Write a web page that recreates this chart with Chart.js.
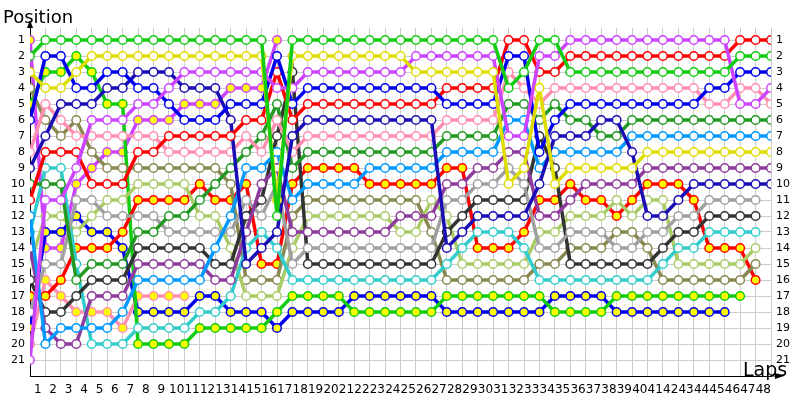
<!DOCTYPE html>
<html>
<head>
<meta charset="utf-8">
<script src="https://cdn.jsdelivr.net/npm/chart.js@4.4.1/dist/chart.umd.min.js"></script>
<style>
html, body { margin: 0; padding: 0; background: #fff; }
</style>
</head>
<body>
<canvas id="chart" width="800" height="400"></canvas>
<script>
// laps (0 = grid position) and position tick labels
const laps = [0,1,2,3,4,5,6,7,8,9,10,11,12,13,14,15,16,17,18,19,20,21,22,23,24,25,26,27,28,29,30,31,32,33,34,35,36,37,38,39,40,41,42,43,44,45,46,47,48];
const lapLabels = ['', '1','2','3','4','5','6','7','8','9','10','11','12','13','14','15','16','17','18','19','20','21','22','23','24','25','26','27','28','29','30','31','32','33','34','35','36','37','38','39','40','41','42','43','44','45','46','47','48'];
const positions = [1,2,3,4,5,6,7,8,9,10,11,12,13,14,15,16,17,18,19,20,21];

// position of each driver per lap, null = out
const green    = [2,1,1,1,1,1,1,1,1,1,1,1,1,1,1,1,12,1,1,1,1,1,1,1,1,1,1,1,1,1,1,4,3,1,1,3,3,3,3,3,3,3,3,3,3,3,2,2,2];
const yellow   = [3,4,4,3,2,2,2,2,2,2,2,2,2,2,2,2,11,2,2,2,2,2,2,2,2,3,3,3,3,3,3,10,9,4,10,9,9,9,9,9,8,8,8,8,8,8,8,8,8];
const violet   = [21,11,11,9,6,6,6,5,5,4,3,3,3,3,3,3,4,4,3,3,3,3,3,3,3,2,2,2,2,2,2,7,7,2,2,1,1,1,1,1,1,1,1,1,1,1,5,5,4];
const blue     = [6,2,2,4,4,3,3,4,4,5,6,6,6,5,5,5,2,5,4,4,4,4,4,4,4,4,4,5,5,5,5,2,2,8,6,5,5,5,5,5,5,5,5,5,4,4,3,3,3];
const red      = [11,8,8,8,10,10,10,8,8,7,7,7,7,7,6,6,3,6,5,5,5,5,5,5,5,5,5,4,4,4,4,1,1,3,3,2,2,2,2,2,2,2,2,2,2,2,1,1,1];
const navy     = [9,7,5,5,5,4,4,3,3,3,4,4,4,6,15,14,13,7,6,6,6,6,6,6,6,6,6,14,13,12,12,12,12,10,7,7,7,6,6,8,12,12,11,10,10,10,10,10,10];
const pink     = [8,5,6,7,7,7,7,7,7,8,8,8,8,8,7,8,6,8,7,7,7,7,7,7,7,7,7,6,6,6,6,3,4,5,4,4,4,4,4,4,4,4,4,4,5,5,4,4,5];
const darkGreen= [10,10,10,16,15,15,15,13,13,12,12,11,10,9,8,7,5,9,8,8,8,8,8,8,8,8,8,7,7,7,7,5,5,6,5,6,6,7,7,6,6,6,6,6,6,6,6,6,6];
const skyBlue  = [12,20,19,19,19,19,18,16,16,16,16,16,14,12,9,9,8,11,10,10,10,10,9,9,9,9,9,8,8,8,8,6,6,9,8,8,8,8,8,7,7,7,7,7,7,7,7,7,7];
const purple   = [14,19,20,20,17,17,17,15,15,15,15,15,16,16,13,10,9,13,13,13,13,13,13,13,12,12,12,10,10,9,9,8,8,12,12,11,10,10,10,10,9,9,9,9,9,9,9,9,9];
const grey     = [18,15,15,11,11,12,12,12,12,13,13,13,13,13,11,12,10,15,14,14,14,14,14,14,14,14,14,11,11,10,10,9,10,14,14,13,13,13,14,14,13,13,12,12,11,11,11,11,null];
const black    = [16,18,18,17,16,16,16,14,14,14,14,14,15,15,12,11,7,3,15,15,15,15,15,15,15,15,15,13,12,11,11,11,11,7,9,15,15,15,15,15,15,14,13,13,12,12,12,12,null];
const cyan     = [13,9,9,15,20,20,20,19,19,19,19,18,18,17,14,13,14,16,16,16,16,16,16,16,16,16,16,15,14,13,13,13,14,16,16,16,16,16,16,16,16,15,14,14,13,13,13,13,null];
const lightGreen=[15,12,12,13,12,11,11,10,10,10,10,12,12,14,17,17,17,14,12,12,12,12,12,12,13,13,11,12,15,15,15,15,15,13,13,12,12,12,11,12,11,11,15,15,15,15,15,14,null];
const olive    = [4,6,7,6,8,9,9,9,9,9,9,9,9,10,16,16,16,12,11,11,11,11,11,11,11,11,13,16,16,16,16,16,16,15,15,14,14,14,13,13,14,16,16,16,16,16,16,15,null];
const redY     = [17,17,16,14,14,14,13,11,11,11,11,10,11,11,10,15,15,10,9,9,9,9,10,10,10,10,10,9,9,14,14,14,13,11,11,10,11,11,12,11,10,10,10,11,14,14,14,16,null];
const greenY   = [5,3,3,2,3,5,5,20,20,20,20,19,19,19,19,19,18,17,17,17,17,18,18,18,18,18,18,17,17,17,17,17,17,17,18,18,18,18,17,17,17,17,17,17,17,17,17,null,null];
const blueY    = [19,13,13,12,13,13,14,18,18,18,18,17,17,18,18,18,19,18,18,18,18,17,17,17,17,17,17,18,18,18,18,18,18,18,17,17,17,17,18,18,18,18,18,18,18,18,null,null,null];
const pinkY    = [20,16,17,18,18,18,19,17,17,17,17,null,null,null,null,null,null,null,null,null,null,null,null,null,null,null,null,null,null,null,null,null,null,null,null,null,null,null,null,null,null,null,null,null,null,null,null,null,null];
const violetY  = [1,14,14,10,9,8,8,6,6,6,5,5,5,4,4,4,1,null,null,null,null,null,null,null,null,null,null,null,null,null,null,null,null,null,null,null,null,null,null,null,null,null,null,null,null,null,null,null,null];

const W = '#ffffff', YF = '#ffff00';
const series = [
  [green, '#11cc11', W], [yellow, '#dddd00', W], [violet, '#cc44ff', W],
  [blue, '#0000ee', W], [red, '#ff0000', W], [navy, '#1a0db5', W],
  [pink, '#ff8fb0', W], [darkGreen, '#229922', W], [skyBlue, '#0099ff', W],
  [purple, '#8e3a9e', W], [grey, '#a0a0a0', W], [black, '#333333', W],
  [cyan, '#33cccc', W], [lightGreen, '#aacc66', W], [olive, '#888850', W],
  [redY, '#ff0000', YF], [greenY, '#11cc11', YF], [blueY, '#0000ee', YF],
  [pinkY, '#ff8fb0', YF], [violetY, '#cc44ff', YF]
];

const datasets = series.map(([vals, col, fill]) => ({
  data: laps.map((l, i) => ({ x: l, y: vals[i] })).filter(p => p.y !== null),
  borderColor: col,
  backgroundColor: fill,
  pointBorderColor: col,
  pointBackgroundColor: fill,
  borderWidth: 3.5,
  pointRadius: 4.3,
  pointBorderWidth: 1.5,
  tension: 0
}));

const tickFont = { family: 'DejaVu Sans', size: 12 };

// titles and arrow heads
const decor = {
  id: 'decor',
  afterDraw(chart) {
    const { ctx, chartArea: a } = chart;
    ctx.save();
    ctx.fillStyle = '#000';
    ctx.strokeStyle = '#000';
    ctx.lineWidth = 1;
    // y axis arrow
    ctx.beginPath();
    ctx.moveTo(a.left, a.top);
    ctx.lineTo(a.left, a.top - 4);
    ctx.stroke();
    ctx.beginPath();
    ctx.moveTo(a.left, a.top - 8);
    ctx.lineTo(a.left - 3, a.top);
    ctx.lineTo(a.left + 3, a.top);
    ctx.closePath();
    ctx.fill();
    // x axis arrow
    ctx.beginPath();
    ctx.moveTo(a.right, a.bottom);
    ctx.lineTo(a.right + 6, a.bottom);
    ctx.stroke();
    ctx.beginPath();
    ctx.moveTo(a.right + 13, a.bottom);
    ctx.lineTo(a.right + 4, a.bottom - 3);
    ctx.lineTo(a.right + 4, a.bottom + 3);
    ctx.closePath();
    ctx.fill();
    ctx.textBaseline = 'alphabetic';
    ctx.textAlign = 'left';
    ctx.font = '18px "DejaVu Sans"';
    ctx.fillText('Position', 3, 23);
    ctx.font = '19px "DejaVu Sans"';
    ctx.fillText('Laps', 743, 376);
    ctx.restore();
  }
};

new Chart(document.getElementById('chart'), {
  type: 'line',
  data: { datasets },
  plugins: [decor],
  options: {
    responsive: false,
    animation: false,
    devicePixelRatio: 1,
    layout: { padding: { top: 28 } },
    plugins: { legend: { display: false }, tooltip: { enabled: false } },
    scales: {
      x: {
        type: 'linear', min: 0, max: 48,
        grid: { color: '#cccccc', drawTicks: false },
        border: { color: '#000' },
        ticks: {
          stepSize: 1, autoSkip: false, maxRotation: 0, color: '#000',
          font: tickFont, padding: 7, labelOffset: -7.7,
          callback: (v) => lapLabels[v]
        },
        afterFit: (s) => { s.height = 24; }
      },
      y: {
        type: 'linear', reverse: true, min: 0.25, max: 22, position: 'left',
        afterBuildTicks: (s) => { s.ticks = positions.concat([22]).map(v => ({ value: v })); },
        grid: { color: '#cccccc', drawTicks: false },
        border: { color: '#000' },
        ticks: { color: '#000', font: { family: 'DejaVu Sans', size: 11 }, padding: 5,
                 callback: (v) => positions.includes(v) ? String(v) : '' },
        afterFit: (s) => { s.width = 30; }
      },
      y2: {
        type: 'linear', reverse: true, min: 0.25, max: 22, position: 'right',
        afterBuildTicks: (s) => { s.ticks = positions.map(v => ({ value: v })); },
        grid: { display: false, drawTicks: false },
        border: { display: false },
        ticks: { color: '#000', font: { family: 'DejaVu Sans', size: 11 }, padding: 5,
                 callback: (v) => String(v) },
        afterFit: (s) => { s.width = 29; }
      }
    }
  }
});
</script>
</body>
</html>
